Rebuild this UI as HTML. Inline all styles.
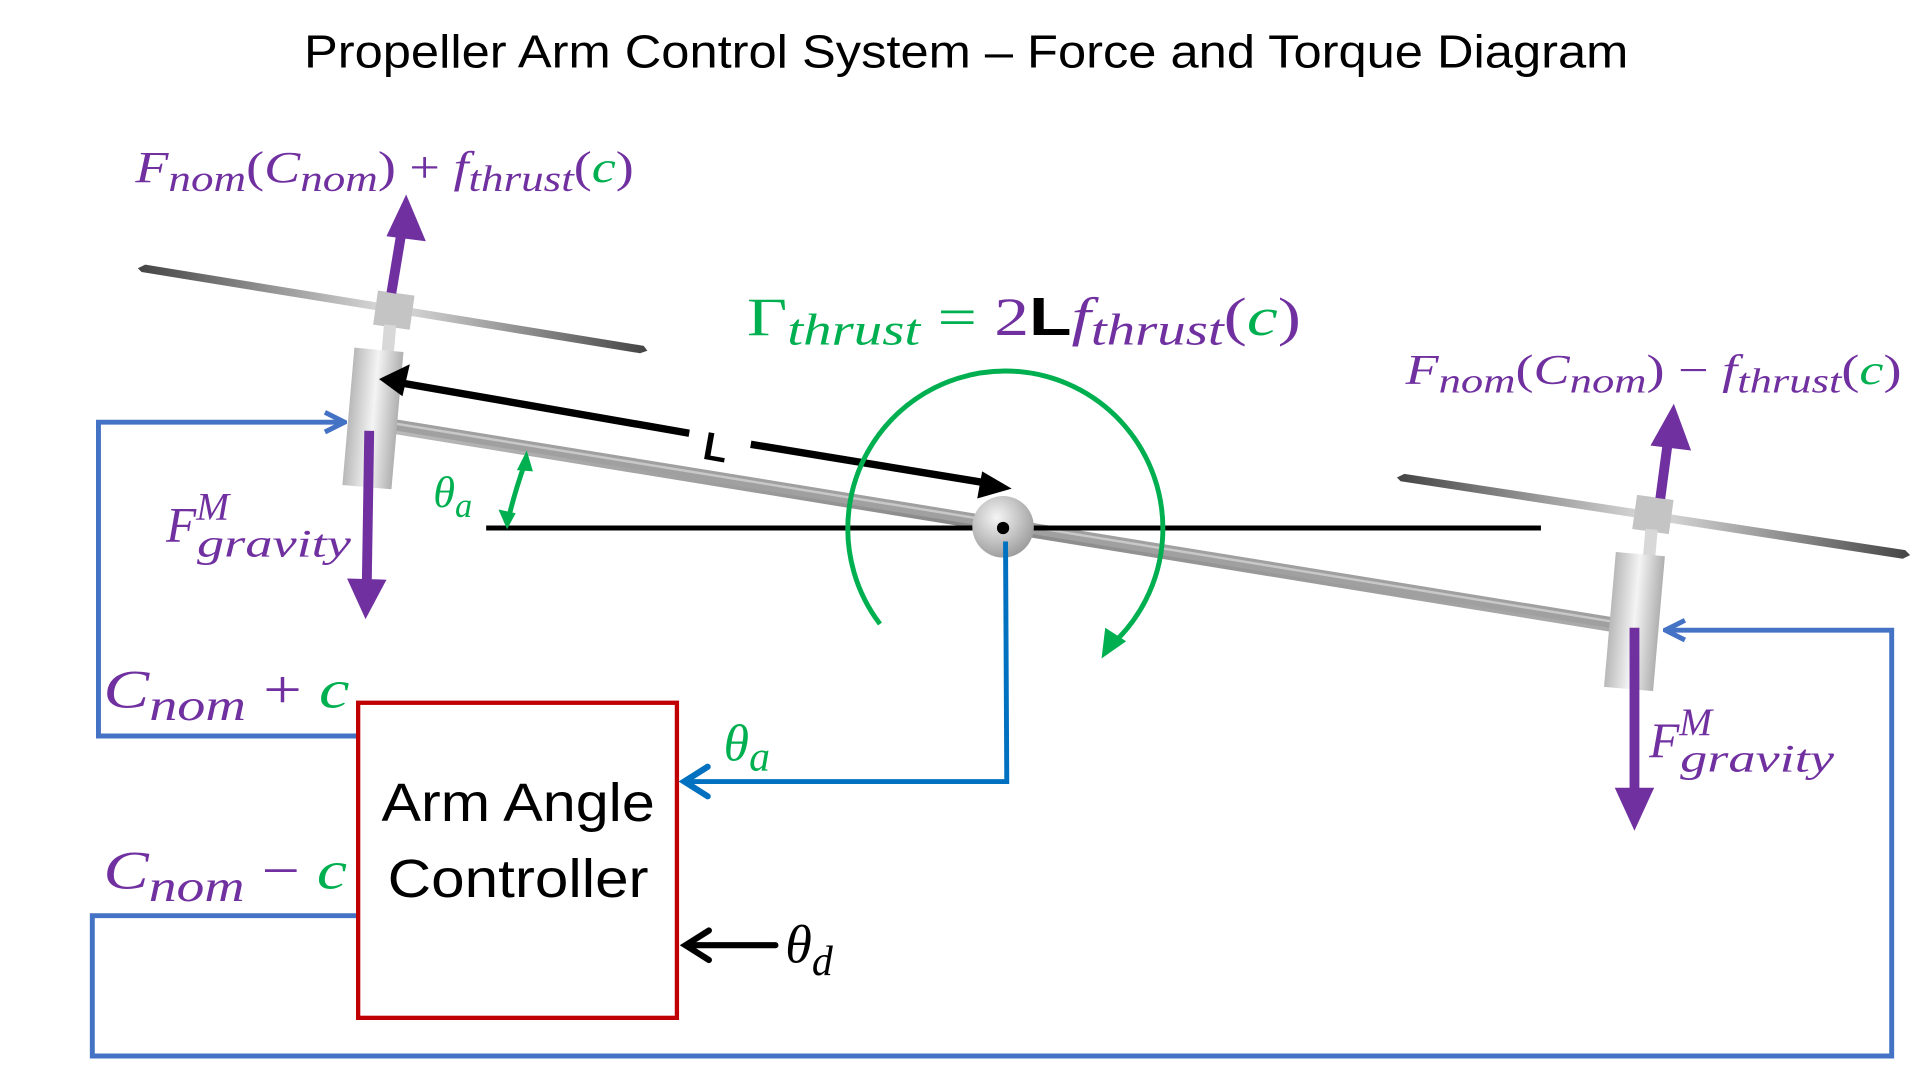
<!DOCTYPE html>
<html><head><meta charset="utf-8"><style>
html,body{margin:0;padding:0;background:#fff;}
svg{display:block;}
.m{font-family:"Liberation Serif",serif;font-style:italic;}
.s{font-family:"Liberation Sans",sans-serif;}
</style></head><body>
<svg width="1920" height="1080" viewBox="0 0 1560 877.5" xmlns="http://www.w3.org/2000/svg">
<defs>
<linearGradient id="blade" x1="0" x2="1" y1="0" y2="0">
<stop offset="0" stop-color="#444"/><stop offset="0.5" stop-color="#ddd"/><stop offset="1" stop-color="#444"/>
</linearGradient>
<linearGradient id="cyl" x1="0" x2="1" y1="0" y2="0">
<stop offset="0" stop-color="#b8b8b8"/><stop offset="0.5" stop-color="#f4f4f4"/><stop offset="1" stop-color="#b0b0b0"/>
</linearGradient>
<linearGradient id="rod" x1="0" x2="0" y1="0" y2="1">
<stop offset="0" stop-color="#bbb"/><stop offset="0.5" stop-color="#888"/><stop offset="1" stop-color="#aaa"/>
</linearGradient>
<radialGradient id="ball" cx="0.4" cy="0.35" r="0.7">
<stop offset="0" stop-color="#f5f5f5"/><stop offset="1" stop-color="#999"/>
</radialGradient>
<marker id="ab" viewBox="0 0 10 10" refX="8" refY="5" markerWidth="5" markerHeight="5" orient="auto"><path d="M1,1 L9,5 L1,9" fill="none" stroke="#4472c4" stroke-width="2"/></marker>
</defs>

<text x="785" y="55" text-anchor="middle" class="s" font-size="38" textLength="1076" lengthAdjust="spacingAndGlyphs" fill="#000">Propeller Arm Control System – Force and Torque Diagram</text>

<!-- arm rod -->
<line x1="320" y1="347" x2="1310" y2="508" stroke="url(#rod)" stroke-width="11" stroke-linecap="round"/>
<line x1="320" y1="345" x2="1310" y2="506" stroke="#a0a0a0" stroke-width="9"/>
<line x1="320" y1="344" x2="1310" y2="505" stroke="#c8c8c8" stroke-width="2"/>

<!-- left propeller -->
<polygon points="112,218 118,215 523,281 526,285 520,287 115,221" fill="url(#blade)"/>
<rect x="305" y="238" width="30" height="28" fill="#c4c4c4" transform="rotate(8 320 252)"/>
<rect x="311" y="264" width="10" height="22" fill="#d8d8d8" transform="rotate(5 316 275)"/>
<rect x="283" y="284" width="40" height="112" fill="url(#cyl)" transform="rotate(5 303 340)"/>
<!-- right propeller -->
<polygon points="1135,388 1141,385 1548,447 1552,451 1546,454 1138,391" fill="url(#blade)"/>
<rect x="1328" y="404" width="30" height="28" fill="#c4c4c4" transform="rotate(8 1343 418)"/>
<rect x="1336" y="430" width="10" height="22" fill="#d8d8d8" transform="rotate(5 1341 440)"/>
<rect x="1308" y="450" width="40" height="110" fill="url(#cyl)" transform="rotate(5 1328 505)"/>

<!-- horizontal reference -->
<line x1="395" y1="429" x2="1252" y2="429" stroke="#000" stroke-width="4"/>
<!-- pivot -->
<circle cx="815" cy="428" r="25" fill="url(#ball)"/>
<circle cx="815" cy="429" r="5" fill="#000"/>

<!-- purple arrows -->
<line x1="318" y1="238" x2="326" y2="190" stroke="#7030a0" stroke-width="8"/>
<polygon points="330,158 346,196 314,192" fill="#7030a0"/>
<line x1="300" y1="350" x2="298" y2="475" stroke="#7030a0" stroke-width="8"/>
<polygon points="297,503 282,470 314,471" fill="#7030a0"/>
<line x1="1349" y1="405" x2="1355" y2="360" stroke="#7030a0" stroke-width="8"/>
<polygon points="1360,328 1374,366 1341,362" fill="#7030a0"/>
<line x1="1328" y1="510" x2="1328" y2="645" stroke="#7030a0" stroke-width="8"/>
<polygon points="1328,675 1312,640 1344,640" fill="#7030a0"/>

<!-- L arrow -->
<line x1="560" y1="352" x2="325" y2="311" stroke="#000" stroke-width="6"/>
<polygon points="308,308 333,296 327,322" fill="#000"/>
<line x1="610" y1="361" x2="805" y2="393" stroke="#000" stroke-width="6"/>
<polygon points="822,397 798,383 794,405" fill="#000"/>
<text x="572" y="375" class="s" font-weight="bold" font-size="32" transform="rotate(10 585 362)">L</text>

<!-- theta_a small arc arrow -->
<path d="M427,375 Q418,400 413,422" fill="none" stroke="#00b050" stroke-width="4"/>
<polygon points="428,366 420,382 433,383" fill="#00b050"/>
<polygon points="412,430 405,414 419,417" fill="#00b050"/>
<text x="352" y="412" class="m" font-size="36" fill="#00b050">θ<tspan font-size="28" dy="8">a</tspan></text>

<!-- torque arc -->
<path d="M715,507 A128,128 0 1 1 902,525" fill="none" stroke="#00b050" stroke-width="4"/>
<polygon points="895,535 898,510 915,521" fill="#00b050"/>

<!-- Gamma label -->
<text x="607" y="272" font-size="44" class="m" fill="#00b050" textLength="450" lengthAdjust="spacingAndGlyphs"><tspan font-style="normal">Γ</tspan><tspan font-size="36" dy="8">thrust</tspan><tspan dy="-8" font-style="normal"> = </tspan><tspan fill="#7030a0" font-style="normal">2</tspan><tspan fill="#000" class="s" font-style="normal" font-weight="bold" font-family="Liberation Sans">L</tspan><tspan fill="#7030a0">f</tspan><tspan fill="#7030a0" font-size="36" dy="8">thrust</tspan><tspan fill="#7030a0" dy="-8" font-style="normal">(</tspan><tspan>c</tspan><tspan fill="#7030a0" font-style="normal">)</tspan></text>

<!-- force labels -->
<text x="110" y="148" font-size="36" class="m" fill="#7030a0" textLength="405" lengthAdjust="spacingAndGlyphs">F<tspan font-size="30" dy="7">nom</tspan><tspan dy="-7" font-style="normal">(</tspan>C<tspan font-size="30" dy="7">nom</tspan><tspan dy="-7" font-style="normal">) + </tspan>f<tspan font-size="30" dy="7">thrust</tspan><tspan dy="-7" font-style="normal">(</tspan><tspan fill="#00b050">c</tspan><tspan font-style="normal">)</tspan></text>
<text x="1142" y="312" font-size="34" class="m" fill="#7030a0" textLength="403" lengthAdjust="spacingAndGlyphs">F<tspan font-size="28" dy="7">nom</tspan><tspan dy="-7" font-style="normal">(</tspan>C<tspan font-size="28" dy="7">nom</tspan><tspan dy="-7" font-style="normal">) − </tspan>f<tspan font-size="28" dy="7">thrust</tspan><tspan dy="-7" font-style="normal">(</tspan><tspan fill="#00b050">c</tspan><tspan font-style="normal">)</tspan></text>
<text x="135" y="440" font-size="40" class="m" fill="#7030a0">F<tspan font-size="32" dy="-18">M</tspan><tspan font-size="32" dx="-26" dy="30" textLength="125" lengthAdjust="spacingAndGlyphs">gravity</tspan></text>
<text x="1340" y="615" font-size="40" class="m" fill="#7030a0">F<tspan font-size="32" dy="-18">M</tspan><tspan font-size="32" dx="-26" dy="30" textLength="125" lengthAdjust="spacingAndGlyphs">gravity</tspan></text>

<!-- blue lines -->
<polyline points="290,598 80,598 80,343 278,343" fill="none" stroke="#4472c4" stroke-width="4" marker-end="url(#ab)"/>
<polyline points="290,744 75,744 75,858 1537,858 1537,512 1355,512" fill="none" stroke="#4472c4" stroke-width="4" marker-end="url(#ab)"/>
<polyline points="817,440 818,635 560,635" fill="none" stroke="#0070c0" stroke-width="4"/>
<path d="M575,623 L556,635 L575,647" fill="none" stroke="#0070c0" stroke-width="5" stroke-linecap="round"/>
<text x="588" y="618" font-size="42" class="m" fill="#00b050">θ<tspan font-size="34" dy="8">a</tspan></text>

<!-- labels C -->
<text x="84" y="575" font-size="44" class="m" fill="#7030a0" textLength="200" lengthAdjust="spacingAndGlyphs">C<tspan font-size="36" dy="10">nom</tspan><tspan dy="-10" font-style="normal"> + </tspan><tspan fill="#00b050">c</tspan></text>
<text x="84" y="722" font-size="44" class="m" fill="#7030a0" textLength="198" lengthAdjust="spacingAndGlyphs">C<tspan font-size="36" dy="10">nom</tspan><tspan dy="-10" font-style="normal"> − </tspan><tspan fill="#00b050">c</tspan></text>

<!-- controller box -->
<rect x="291" y="571" width="259" height="256" fill="#fff" stroke="#c00000" stroke-width="3.5"/>
<text x="421" y="667" text-anchor="middle" class="s" font-size="44" textLength="222" lengthAdjust="spacingAndGlyphs">Arm Angle</text>
<text x="421" y="729" text-anchor="middle" class="s" font-size="44" textLength="212" lengthAdjust="spacingAndGlyphs">Controller</text>

<!-- theta_d -->
<line x1="630" y1="768" x2="560" y2="768" stroke="#000" stroke-width="5" stroke-linecap="round"/>
<path d="M576,756 L557,768 L576,780" fill="none" stroke="#000" stroke-width="5" stroke-linecap="round"/>
<text x="638" y="782" font-size="44" class="m" fill="#000">θ<tspan font-size="34" dy="10">d</tspan></text>
</svg>
</body></html>
